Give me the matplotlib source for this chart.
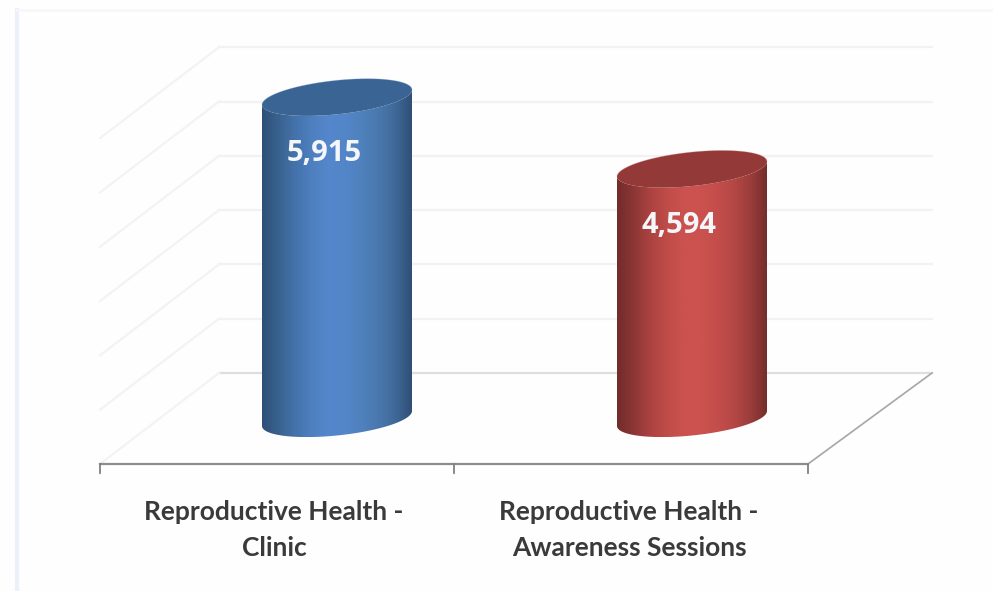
import numpy as np
import matplotlib
matplotlib.use('Agg')
import matplotlib.pyplot as plt
from matplotlib.colors import LinearSegmentedColormap
from matplotlib.patches import PathPatch
from matplotlib.path import Path

categories = ['Reproductive Health -\nClinic', 'Reproductive Health -\nAwareness Sessions']
values = [5915, 4594]
value_labels = ['5,915', '4,594']
gridlines = [0, 1000, 2000, 3000, 4000, 5000, 6000]

blue_stops = ['#2f5078', '#39628f', '#4473ab', '#4e80c0', '#5487cb', '#5386c8', '#4f81bd', '#4a78ae', '#40699a', '#2f4f75']
red_stops = ['#722c2b', '#8c3635', '#ab4341', '#c04c49', '#cb524f', '#cb524f', '#c44e4b', '#b54845', '#9c3e3c', '#752e2c']
top_colors = ['#3a6493', '#933a38']
edge_colors = ['#7fa6d8', '#e08f8c']

W, H = 993, 591
# pixels for one category step and one unit of value
PX_CAT = 355
PX_VAL = 0.0543
X0_PX = 337
Y0_PX = 418.5
RX, RY, SHEAR = 75, 17, 7.5


def dx(px):
    return px / PX_CAT


def dy(px):
    return px / PX_VAL


def ellipse(i, value, t):
    x = i + dx(RX) * np.cos(t)
    y = value + dy(RY) * np.sin(t) + dy(SHEAR) * np.cos(t)
    return x, y


def draw_cylinder(ax, i, value, stops, top_color, edge_color):
    cmap = LinearSegmentedColormap.from_list('c', stops)
    # left side down, round the bottom, right side up, back along the top front
    t_bottom = np.linspace(np.pi, 2 * np.pi, 60)
    t_top = np.linspace(0, -np.pi, 60)
    bx, by = ellipse(i, 0, t_bottom)
    tx, ty = ellipse(i, value, t_top)
    verts = np.column_stack([np.concatenate([bx, tx]), np.concatenate([by, ty])])
    codes = [Path.MOVETO] + [Path.LINETO] * (len(verts) - 1)
    patch = PathPatch(Path(verts, codes), facecolor='none', edgecolor='none', zorder=3)
    ax.add_patch(patch)
    grad = np.linspace(0, 1, 256).reshape(1, -1)
    im = ax.imshow(grad, cmap=cmap, aspect='auto', zorder=3,
                   extent=[i - dx(RX), i + dx(RX), by.min(), ty.max() + dy(RY)],
                   interpolation='bilinear')
    im.set_clip_path(patch)
    t = np.linspace(0, 2 * np.pi, 120)
    ex, ey = ellipse(i, value, t)
    ax.fill(ex, ey, color=top_color, lw=0, zorder=4)
    ax.plot(ex[:60], ey[:60], color=edge_color, lw=0.6, alpha=0.35, zorder=4)


def main():
    plt.rcParams['font.family'] = ['Lato', 'DejaVu Sans']
    fig = plt.figure(figsize=(W / 100, H / 100), dpi=100, facecolor='#fefefe')
    ax = fig.add_axes([0, 0, 1, 1])
    ax.axis('off')
    xlim = (-dx(X0_PX), dx(W - X0_PX))
    ylim = (-dy(H - Y0_PX), dy(Y0_PX))

    # outer frame, very pale
    ax.plot([dx(17 - X0_PX)] * 2, [ylim[0], dy(Y0_PX - 10)], color='#eaf1fa', lw=3, zorder=1)
    ax.plot([dx(17 - X0_PX), xlim[1]], [dy(Y0_PX - 10)] * 2, color='#f7f7f7', lw=2, zorder=1)

    # back wall and left wall gridlines, the box back sits above the bar base
    front_left = dx(100 - X0_PX)
    back_left = dx(219 - X0_PX)
    back_right = dx(932 - X0_PX)
    back_off = dy(45.5)
    for g in gridlines:
        y = g + back_off
        col = '#dedede' if g == 0 else '#f2f2f2'
        ax.plot([back_left, back_right], [y, y], color=col, lw=1.6, zorder=2)
        ax.plot([front_left, back_left], [y - dy(91), y], color='#f3f3f3', lw=1.6, zorder=2)

    # floor front edge and ticks
    floor_y = -dy(464 - Y0_PX)
    front_right = dx(808 - X0_PX)
    ax.plot([front_left, front_right], [floor_y, floor_y], color='#8c8c8c', lw=1.6, zorder=2)
    ax.plot([front_right, back_right], [floor_y, back_off], color='#a6a6a6', lw=1.2, zorder=2)
    for x in [front_left, dx(454 - X0_PX), front_right]:
        ax.plot([x, x], [floor_y, floor_y - dy(9)], color='#808080', lw=1.3, zorder=2)

    stops = [blue_stops, red_stops]
    for i, v in enumerate(values):
        draw_cylinder(ax, i, v, stops[i], top_colors[i], edge_colors[i])
        ax.text(i - dx(13), v - dy(56), value_labels[i], color='#f4f6fa', fontsize=21,
                fontweight='bold', family=['Open Sans', 'DejaVu Sans'],
                ha='center', va='center', zorder=5)
        ax.text(i - dx(63), floor_y - dy(65.5), categories[i], color='#3a3a3a', fontsize=19,
                fontweight='bold', ha='center', va='center', linespacing=1.6, zorder=5)

    ax.set_xlim(xlim)
    ax.set_ylim(ylim)
    fig.savefig('out.png', dpi=100, facecolor=fig.get_facecolor())


main()
